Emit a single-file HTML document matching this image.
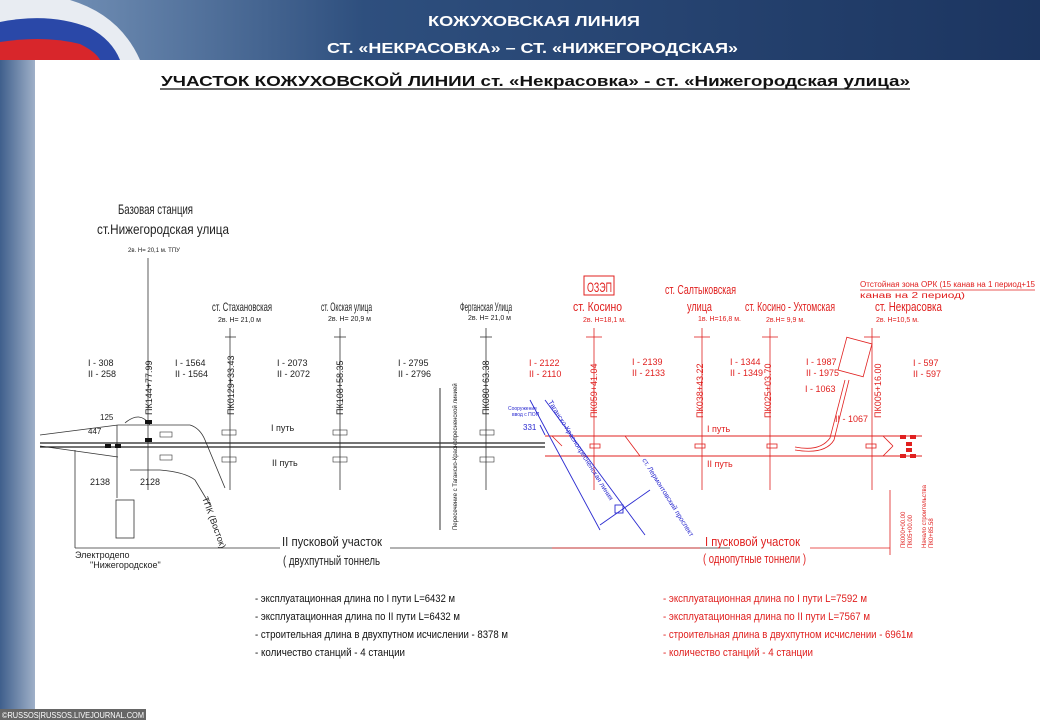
<!DOCTYPE html>
<html><head><meta charset="utf-8"><style>
html,body{margin:0;padding:0;background:#fff}
svg{display:block}
text{font-family:"Liberation Sans",sans-serif}
</style></head><body>
<svg width="1040" height="720" viewBox="0 0 1040 720" xmlns="http://www.w3.org/2000/svg">
<defs>
<linearGradient id="hd" x1="0" y1="0" x2="1" y2="0">
<stop offset="0" stop-color="#7f9cc0"/><stop offset="0.35" stop-color="#2e4f7e"/><stop offset="1" stop-color="#1c3560"/></linearGradient>
<linearGradient id="ls" x1="0" y1="0" x2="1" y2="0"><stop offset="0" stop-color="#3f5f8c"/><stop offset="1" stop-color="#9fb0c8"/></linearGradient>
</defs>
<rect width="1040" height="720" fill="#fff"/>
<rect x="0" y="0" width="1040" height="60" fill="url(#hd)"/>
<path d="M0 0 L70 0 Q120 15 140 60 L0 60Z" fill="#e8ecf2"/>
<path d="M0 22 Q50 12 90 28 Q112 40 120 60 L0 60Z" fill="#2a48a8"/>
<path d="M0 42 Q45 35 80 44 Q96 52 100 60 L0 60Z" fill="#d8262b"/>
<rect x="0" y="60" width="35" height="660" fill="url(#ls)"/>
<text x="428" y="26" fill="#fff" font-size="15" font-weight="bold" textLength="212" lengthAdjust="spacingAndGlyphs">КОЖУХОВСКАЯ ЛИНИЯ</text>
<text x="327" y="53" fill="#fff" font-size="15" font-weight="bold" textLength="411" lengthAdjust="spacingAndGlyphs">СТ. «НЕКРАСОВКА» – СТ. «НИЖЕГОРОДСКАЯ»</text>
<text x="161" y="86" fill="#111" font-size="15" font-weight="bold" textLength="749" lengthAdjust="spacingAndGlyphs">УЧАСТОК КОЖУХОВСКОЙ ЛИНИИ  ст. «Некрасовка»   - ст. «Нижегородская  улица»</text>
<line x1="160" y1="89" x2="910" y2="89" stroke="#111" stroke-width="1.3"/>

<g font-size="12" fill="#222">
<text x="118" y="214" font-size="14" textLength="75" lengthAdjust="spacingAndGlyphs">Базовая станция</text>
<text x="97" y="234" font-size="14" textLength="132" lengthAdjust="spacingAndGlyphs">ст.Нижегородская улица</text>
<text x="128" y="252" font-size="6">2в. Н= 20,1 м. ТПУ</text>
<text x="212" y="311" textLength="60" lengthAdjust="spacingAndGlyphs">ст. Стахановская</text><text x="218" y="322" font-size="7">2в. Н= 21,0 м</text>
<text x="321" y="311" textLength="51" lengthAdjust="spacingAndGlyphs">ст. Окская улица</text><text x="328" y="321" font-size="7">2в. Н= 20,9 м</text>
<text x="460" y="311" textLength="52" lengthAdjust="spacingAndGlyphs">Ферганская Улица</text><text x="468" y="320" font-size="7">2в. Н= 21,0 м</text>
</g>
<g stroke="#333" stroke-width="0.8" fill="none">
<line x1="148" y1="258" x2="148" y2="490"/>
<line x1="230" y1="328" x2="230" y2="490"/><line x1="225" y1="337" x2="236" y2="337"/>
<line x1="340" y1="328" x2="340" y2="490"/><line x1="334" y1="337" x2="346" y2="337"/>
<line x1="486" y1="328" x2="486" y2="490"/><line x1="480" y1="337" x2="492" y2="337"/>
<line x1="40" y1="435" x2="118" y2="425"/><line x1="40" y1="446" x2="118" y2="457"/>
<path d="M118 425 L190 425 Q200 428 205 440 L225 488"/>
<path d="M130 470 Q140 470 160 470 Q185 472 195 480 L210 505"/>
<line x1="117" y1="425" x2="117" y2="498"/>
<rect x="116" y="500" width="18" height="38"/>
<line x1="75" y1="548" x2="75" y2="450"/><line x1="75" y1="548" x2="280" y2="548"/>
<line x1="390" y1="548" x2="730" y2="548"/>
<path d="M125 423 Q140 410 150 425"/>
</g>
<line x1="40" y1="443" x2="545" y2="443" stroke="#222" stroke-width="1.2"/>
<line x1="40" y1="447" x2="545" y2="447" stroke="#222" stroke-width="1.2"/>
<line x1="440" y1="388" x2="440" y2="530" stroke="#333"/>
<g fill="#222" font-size="9">
<text x="88" y="366">I - 308</text><text x="88" y="377">II - 258</text>
<text x="175" y="366">I - 1564</text><text x="175" y="377">II - 1564</text>
<text x="277" y="366">I - 2073</text><text x="277" y="377">II - 2072</text>
<text x="398" y="366">I - 2795</text><text x="398" y="377">II - 2796</text>
<text x="271" y="431">I путь</text><text x="272" y="466">II путь</text>
<text x="100" y="420" font-size="8">125</text><text x="88" y="434" font-size="8">447</text>
<text x="90" y="485">2138</text><text x="140" y="485">2128</text>
<text x="75" y="558" font-size="9">Электродепо</text><text x="90" y="568" font-size="9">"Нижегородское"</text>
<text x="282" y="546" font-size="13" textLength="100" lengthAdjust="spacingAndGlyphs">II пусковой участок</text>
<text x="283" y="565" font-size="13" textLength="97" lengthAdjust="spacingAndGlyphs">( двухпутный тоннель</text>
<text transform="translate(152,415) rotate(-90)">ПК144+77.99</text>
<text transform="translate(234,415) rotate(-90)">ПК0129+33.43</text>
<text transform="translate(343,415) rotate(-90)">ПК108+58.35</text>
<text transform="translate(489,415) rotate(-90)">ПК080+63.38</text>
<text transform="translate(457,530) rotate(-90)" font-size="6">Пересечение с Таганско-Краснопресненской линией</text>
<text transform="translate(202,498) rotate(70)">ТПК (Восток)</text>
</g>
<g fill="#111"><rect x="145" y="420" width="7" height="4"/><rect x="145" y="438" width="7" height="4"/><rect x="115" y="444" width="6" height="4"/><rect x="105" y="444" width="6" height="4"/></g>
<g stroke="#333" fill="none" stroke-width="0.6">
<rect x="222" y="430" width="14" height="5"/><rect x="222" y="457" width="14" height="5"/>
<rect x="333" y="430" width="14" height="5"/><rect x="333" y="457" width="14" height="5"/>
<rect x="480" y="430" width="14" height="5"/><rect x="480" y="457" width="14" height="5"/>
<rect x="160" y="432" width="12" height="5"/><rect x="160" y="455" width="12" height="5"/>
</g>

<g fill="#e0201f" font-size="12">
<rect x="584" y="276" width="30" height="19" fill="none" stroke="#e0201f"/>
<text x="587" y="292" font-size="14" textLength="25" lengthAdjust="spacingAndGlyphs">ОЗЭП</text>
<text x="573" y="311" font-size="13" textLength="49" lengthAdjust="spacingAndGlyphs">ст. Косино</text><text x="583" y="322" font-size="7">2в. Н=18,1 м.</text>
<text x="665" y="294" font-size="13" textLength="71" lengthAdjust="spacingAndGlyphs">ст. Салтыковская</text>
<text x="687" y="311" font-size="13" textLength="25" lengthAdjust="spacingAndGlyphs">улица</text><text x="698" y="321" font-size="7">1в. Н=16,8 м.</text>
<text x="745" y="311" font-size="13" textLength="90" lengthAdjust="spacingAndGlyphs">ст. Косино - Ухтомская</text><text x="766" y="322" font-size="7">2в.Н= 9,9 м.</text>
<text x="875" y="311" font-size="13" textLength="67" lengthAdjust="spacingAndGlyphs">ст. Некрасовка</text><text x="876" y="322" font-size="7">2в. Н=10,5 м.</text>
<text x="860" y="287" font-size="8" textLength="175" lengthAdjust="spacingAndGlyphs">Отстойная зона ОРК (15 канав на 1 период+15</text>
<text x="860" y="298" font-size="8" textLength="105" lengthAdjust="spacingAndGlyphs">канав на 2 период)</text>
<g font-size="9">
<text x="529" y="366">I - 2122</text><text x="529" y="377">II - 2110</text>
<text x="632" y="365">I - 2139</text><text x="632" y="376">II - 2133</text>
<text x="730" y="365">I - 1344</text><text x="730" y="376">II - 1349</text>
<text x="806" y="365">I - 1987</text><text x="806" y="376">II - 1975</text>
<text x="913" y="366">I - 597</text><text x="913" y="377">II - 597</text>
<text x="805" y="392">I - 1063</text><text x="835" y="422">II - 1067</text>
<text x="707" y="432">I путь</text><text x="707" y="467">II путь</text>
<text transform="translate(597,418) rotate(-90)">ПК059+41.04</text>
<text transform="translate(703,418) rotate(-90)">ПК038+43.22</text>
<text transform="translate(771,418) rotate(-90)">ПК025+03.70</text>
<text transform="translate(881,418) rotate(-90)">ПК005+16.00</text>
</g>
<text x="705" y="546" font-size="13" textLength="95" lengthAdjust="spacingAndGlyphs">I пусковой участок</text>
<text x="703" y="563" font-size="13" textLength="103" lengthAdjust="spacingAndGlyphs">( однопутные тоннели )</text>
</g>
<g stroke="#e0201f" fill="none" stroke-width="0.8">
<line x1="545" y1="436" x2="922" y2="436" stroke-width="1.1"/>
<line x1="545" y1="456" x2="922" y2="456" stroke-width="1.1"/>
<line x1="594" y1="328" x2="594" y2="490"/><line x1="586" y1="337" x2="602" y2="337"/>
<line x1="702" y1="328" x2="702" y2="490"/><line x1="694" y1="337" x2="710" y2="337"/>
<line x1="770" y1="328" x2="770" y2="490"/><line x1="762" y1="337" x2="778" y2="337"/>
<line x1="872" y1="328" x2="872" y2="490"/><line x1="864" y1="337" x2="880" y2="337"/>
<line x1="860" y1="290" x2="1035" y2="290"/>
<path d="M795 447 Q820 452 830 438 L845 380"/><path d="M795 450 Q825 455 834 440 L849 380"/>
<rect x="842" y="340" width="26" height="34" transform="rotate(15 855 357)"/>
<line x1="625" y1="436" x2="640" y2="456"/><line x1="552" y1="436" x2="562" y2="446"/>
<line x1="883" y1="436" x2="893" y2="446"/><line x1="883" y1="456" x2="893" y2="446"/>
<line x1="552" y1="548" x2="700" y2="548"/><line x1="810" y1="548" x2="890" y2="548"/>
<line x1="890" y1="490" x2="890" y2="555"/>
<rect x="590" y="444" width="10" height="4"/><rect x="695" y="444" width="10" height="4"/>
<rect x="767" y="444" width="10" height="4"/><rect x="866" y="444" width="10" height="4"/>
</g>
<g fill="#e0201f"><rect x="900" y="435" width="6" height="4"/><rect x="910" y="435" width="6" height="4"/><rect x="900" y="454" width="6" height="4"/><rect x="910" y="454" width="6" height="4"/><rect x="906" y="442" width="6" height="4"/><rect x="906" y="448" width="6" height="4"/></g>
<g fill="#e0201f" font-size="6">
<text transform="translate(905,548) rotate(-90)">ПК000+00.00</text>
<text transform="translate(912,548) rotate(-90)">ПК05+00.00</text>
<text transform="translate(926,548) rotate(-90)">Начало строительства</text>
<text transform="translate(933,548) rotate(-90)">ПК0+85.58</text>
</g>
<g stroke="#2a2ad0" fill="none" stroke-width="0.9">
<line x1="530" y1="400" x2="600" y2="530"/><line x1="545" y1="400" x2="645" y2="535"/>
<line x1="600" y1="525" x2="650" y2="490"/><rect x="615" y="505" width="8" height="8"/>
<line x1="540" y1="425" x2="545" y2="435"/>
</g>
<g fill="#2a2ad0">
<text x="508" y="410" font-size="5">Сооружение</text><text x="512" y="416" font-size="5">ввод с ПОП</text>
<text x="523" y="430" font-size="8">331</text>
<text transform="translate(548,402) rotate(58)" font-size="7">Таганско-Краснопресненская линия</text>
<text transform="translate(642,460) rotate(58)" font-size="7">ст. Лермонтовский проспект</text>
</g>

<g font-size="11">
<g fill="#111">
<text x="255" y="602" textLength="200" lengthAdjust="spacingAndGlyphs">- эксплуатационная длина по I пути L=6432 м</text>
<text x="255" y="620" textLength="205" lengthAdjust="spacingAndGlyphs">- эксплуатационная длина по II пути L=6432 м</text>
<text x="255" y="638" textLength="253" lengthAdjust="spacingAndGlyphs">- строительная длина в двухпутном исчислении - 8378 м</text>
<text x="255" y="656" textLength="150" lengthAdjust="spacingAndGlyphs">- количество станций - 4 станции</text>
</g>
<g fill="#e0201f">
<text x="663" y="602" textLength="204" lengthAdjust="spacingAndGlyphs">- эксплуатационная длина по I пути L=7592 м</text>
<text x="663" y="620" textLength="207" lengthAdjust="spacingAndGlyphs">- эксплуатационная длина по II пути L=7567 м</text>
<text x="663" y="638" textLength="250" lengthAdjust="spacingAndGlyphs">- строительная длина в двухпутном исчислении - 6961м</text>
<text x="663" y="656" textLength="150" lengthAdjust="spacingAndGlyphs">- количество станций - 4 станции</text>
</g>
</g>
<rect x="0" y="709" width="146" height="11" fill="#666"/>
<text x="2" y="718" fill="#fff" font-size="8" font-family="Liberation Mono,monospace" textLength="142" lengthAdjust="spacingAndGlyphs">©RUSSOS|RUSSOS.LIVEJOURNAL.COM</text>
</svg>
</body></html>
